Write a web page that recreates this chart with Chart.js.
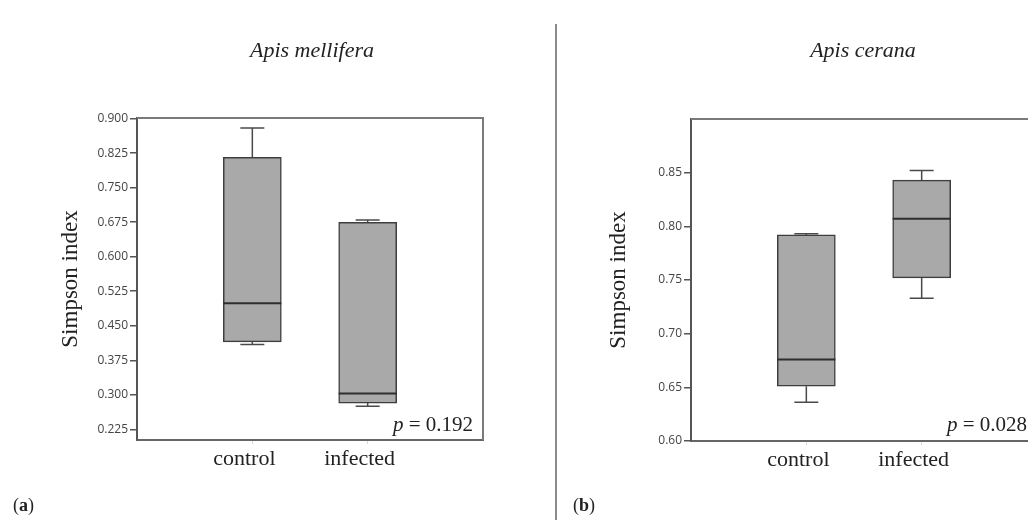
<!DOCTYPE html>
<html>
<head>
<meta charset="utf-8">
<script src="https://cdn.jsdelivr.net/npm/chart.js@4.4.1/dist/chart.umd.min.js"></script>
<style>
    html, body { margin: 0; padding: 0; background: #fff; }
    body { width: 1028px; height: 520px; position: relative; overflow: hidden; font-family: "Liberation Serif", serif; color: #222; }
    canvas { position: absolute; top: 0; }
    .txt { position: absolute; white-space: nowrap; }
    .title { font-size: 22px; line-height: 22px; font-style: italic; top: 39px; transform: translateX(-50%); }
    .pval { font-size: 21px; line-height: 21px; top: 414px; }
    .panel { font-size: 18px; line-height: 18px; top: 496px; }
    #divider { position: absolute; left: 555px; top: 24px; width: 1.5px; height: 496px; background: #8a8a8a; }
</style>
</head>
<body>
<canvas id="chartA" width="556" height="520" style="left:0"></canvas>
<canvas id="chartB" width="484" height="520" style="left:556px"></canvas>
<div id="divider"></div>

<div class="txt title" style="left:312px">Apis mellifera</div>
<div class="txt title" style="left:863px">Apis cerana</div>
<div class="txt pval" style="right:555px"><i>p</i> = 0.192</div>
<div class="txt pval" style="right:1px"><i>p</i> = 0.028</div>
<div class="txt panel" style="left:13px">(<b>a</b>)</div>
<div class="txt panel" style="left:573px">(<b>b</b>)</div>

<script>
// groups on the x axis (blank slots keep the boxes at 1/3 and 2/3 of the width)
const groups = ['control', 'infected'];
const slots = [''].concat(groups, ['']);

// Apis mellifera - Simpson index box stats
const mellMin = [0.409, 0.275];
const mellQ1 = [0.415, 0.282];
const mellMedian = [0.499, 0.303];
const mellQ3 = [0.816, 0.675];
const mellMax = [0.880, 0.680];
const mellTicks = [0.225, 0.300, 0.375, 0.450, 0.525, 0.600, 0.675, 0.750, 0.825, 0.900];

// Apis cerana - Simpson index box stats
const ceranaMin = [0.636, 0.733];
const ceranaQ1 = [0.651, 0.752];
const ceranaMedian = [0.676, 0.807];
const ceranaQ3 = [0.792, 0.843];
const ceranaMax = [0.793, 0.852];
const ceranaTicks = [0.60, 0.65, 0.70, 0.75, 0.80, 0.85];

// Draws medians, whiskers, caps and the top/right frame
const whiskerPlugin = {
    id: 'whiskers',
    afterDatasetsDraw: function(chart, args, opts) {
        const ctx = chart.ctx;
        const y = chart.scales.y;
        const bars = chart.getDatasetMeta(0).data;
        const area = chart.chartArea;
        ctx.save();

        groups.forEach((g, i) => {
            const bar = bars[i + 1];
            const cx = bar.x;
            const half = bar.width / 2;
            const cap = 12;

            // whiskers
            ctx.strokeStyle = '#4a4a4a';
            ctx.lineWidth = 1.5;
            ctx.beginPath();
            ctx.moveTo(cx, y.getPixelForValue(opts.q3[i]));
            ctx.lineTo(cx, y.getPixelForValue(opts.max[i]));
            ctx.moveTo(cx - cap, y.getPixelForValue(opts.max[i]));
            ctx.lineTo(cx + cap, y.getPixelForValue(opts.max[i]));
            ctx.moveTo(cx, y.getPixelForValue(opts.q1[i]));
            ctx.lineTo(cx, y.getPixelForValue(opts.min[i]));
            ctx.moveTo(cx - cap, y.getPixelForValue(opts.min[i]));
            ctx.lineTo(cx + cap, y.getPixelForValue(opts.min[i]));
            ctx.stroke();

            // median
            ctx.strokeStyle = '#2e2e2e';
            ctx.lineWidth = 2;
            ctx.beginPath();
            ctx.moveTo(cx - half, y.getPixelForValue(opts.median[i]));
            ctx.lineTo(cx + half, y.getPixelForValue(opts.median[i]));
            ctx.stroke();
        });

        // top and right frame lines
        ctx.strokeStyle = '#7a7a7a';
        ctx.lineWidth = 2;
        ctx.beginPath();
        ctx.moveTo(area.left, area.top);
        ctx.lineTo(area.right, area.top);
        ctx.lineTo(area.right, area.bottom);
        ctx.stroke();
        ctx.restore();
    }
};

function makeBoxChart(id, stats, cfg) {
    const ctx = document.getElementById(id).getContext('2d');
    const boxes = [null].concat(groups.map((g, i) => [stats.q1[i], stats.q3[i]]), [null]);
    return new Chart(ctx, {
        type: 'bar',
        data: {
            labels: slots,
            datasets: [{
                data: boxes,
                backgroundColor: '#a9a9a9',
                borderColor: '#3e3e3e',
                borderWidth: 1.5,
                borderSkipped: false,
                barThickness: 58
            }]
        },
        options: {
            responsive: false,
            animation: false,
            devicePixelRatio: 1,
            events: [],
            layout: {
                padding: cfg.padding
            },
            scales: {
                x: {
                    type: 'category',
                    offset: false,
                    afterFit: function(scale) {
                        scale.height = 50;
                    },
                    ticks: {
                        font: { family: 'Liberation Serif', size: 22 },
                        color: '#222',
                        padding: 2,
                        labelOffset: -8,
                        maxRotation: 0,
                        autoSkip: false
                    },
                    grid: {
                        offset: false,
                        drawOnChartArea: false,
                        tickLength: 4,
                        color: c => (c.index > 0 && c.index <= groups.length) ? '#d8d8d8' : 'rgba(0,0,0,0)'
                    },
                    border: { color: '#666', width: 2 }
                },
                y: {
                    min: cfg.min,
                    max: cfg.max,
                    afterBuildTicks: function(scale) {
                        scale.ticks = cfg.ticks.map(v => ({ value: v }));
                    },
                    afterFit: function(scale) {
                        scale.width = cfg.axisWidth;
                    },
                    ticks: {
                        callback: function(value) {
                            return value.toFixed(cfg.decimals);
                        },
                        font: { family: 'Open Sans', size: 12 },
                        color: '#444',
                        padding: 2
                    },
                    grid: {
                        drawOnChartArea: false,
                        tickLength: 7,
                        color: '#555',
                        lineWidth: 1.5
                    },
                    border: { color: '#555', width: 2 },
                    title: {
                        display: true,
                        text: 'Simpson index',
                        font: { family: 'Liberation Serif', size: 23 },
                        color: '#222',
                        padding: { top: 4, bottom: 4 }
                    }
                }
            },
            plugins: {
                legend: { display: false },
                tooltip: { enabled: false },
                whiskers: stats
            }
        },
        plugins: [whiskerPlugin]
    });
}

document.addEventListener('DOMContentLoaded', () => {
    makeBoxChart('chartA',
        { min: mellMin, q1: mellQ1, median: mellMedian, q3: mellQ3, max: mellMax },
        { min: 0.2017, max: 0.9015, ticks: mellTicks, decimals: 3, axisWidth: 84,
          padding: { left: 53, right: 73, top: 118, bottom: 30 } });

    makeBoxChart('chartB',
        { min: ceranaMin, q1: ceranaQ1, median: ceranaMedian, q3: ceranaQ3, max: ceranaMax },
        { min: 0.60, max: 0.90, ticks: ceranaTicks, decimals: 2, axisWidth: 90,
          padding: { left: 45, right: 3, top: 119, bottom: 29 } });
});
</script>
</body>
</html>
